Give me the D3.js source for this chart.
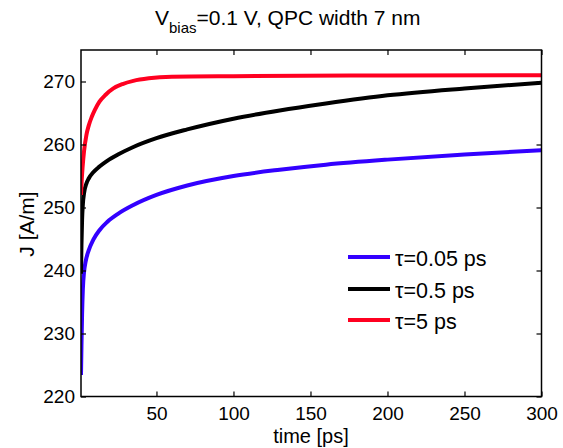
<!DOCTYPE html>
<html><head><meta charset="utf-8">
<script src="https://cdn.jsdelivr.net/npm/d3@7"></script>
<style>
body{margin:0;background:#fff;}
text{font-family:"Liberation Sans",Arial,sans-serif;fill:#000;}
</style></head>
<body><svg id="c" width="563" height="448"></svg>
<script>
const xTicks = [50,100,150,200,250,300];
const yTicks = [220,230,240,250,260,270];
const seriesNames = ["τ=0.05 ps","τ=0.5 ps","τ=5 ps"];
const seriesColors = ["#3300ff","#000000","#ff0020"];
const tBlue  = [1,1.3,1.7,2.2,3,4,6,9,13,18,25,35,50,70,100,130,160,200,250,300];
const jBlue  = [223.4,228,233,237,239.8,241.4,243.2,244.9,246.4,247.7,249.0,250.4,252.0,253.5,255.0,256.0,256.8,257.6,258.4,259.1];
const tBlack = [1,1.3,1.7,2.2,3,4.5,6,9,13,18,25,35,50,70,100,130,160,200,250,300];
const jBlack = [239.5,244,248,250.5,252.3,253.8,254.6,255.6,256.5,257.4,258.4,259.6,261.0,262.4,264.1,265.4,266.5,267.8,268.9,269.8];
const tRed   = [1,1.5,2,3,4.5,6,8,10,13,17,22,28,35,45,60,100,200,300];
const jRed   = [252,254.5,256.3,259.0,261.5,263.0,264.4,265.5,266.8,267.9,268.9,269.6,270.1,270.5,270.75,270.85,270.95,271.0];

const svg = d3.select("#c");
const L=81, R=541.5, T=50, B=396.5;
const x = d3.scaleLinear().domain([1,300]).range([L,R]);
const y = d3.scaleLinear().domain([220,275]).range([B,T]);

const data = [
  tBlue.map((t,i)=>[t,jBlue[i]]),
  tBlack.map((t,i)=>[t,jBlack[i]]),
  tRed.map((t,i)=>[t,jRed[i]])
];
const line = d3.line().x(d=>x(d[0])).y(d=>y(d[1])).curve(d3.curveMonotoneX);
const g = svg.append("g");
g.append("defs").append("clipPath").attr("id","cp").append("rect")
 .attr("x",L).attr("y",T).attr("width",R-L).attr("height",B-T);
data.forEach((d,i)=>{
  g.append("path").attr("d",line(d)).attr("fill","none")
   .attr("stroke",seriesColors[i]).attr("stroke-width",4)
   .attr("stroke-linejoin","round")
   .attr("clip-path","url(#cp)");
});

const fs = "19px";
const ax = (sel)=>{sel.select(".domain").remove(); sel.selectAll("line").attr("stroke","#000").attr("stroke-width",1.2); sel.selectAll("text").style("font-size",fs).attr("font-family",null);};
svg.append("g").attr("transform",`translate(0,${B})`)
  .call(d3.axisBottom(x).tickValues(xTicks).tickSizeInner(-5).tickSizeOuter(0).tickPadding(10)).call(ax);
svg.append("g").attr("transform",`translate(0,${T})`)
  .call(d3.axisTop(x).tickValues(xTicks).tickSizeInner(-5).tickSizeOuter(0).tickFormat("")).call(ax);
svg.append("g").attr("transform",`translate(${L},0)`)
  .call(d3.axisLeft(y).tickValues(yTicks).tickSizeInner(-5).tickSizeOuter(0).tickPadding(6)).call(ax);
svg.append("g").attr("transform",`translate(${R},0)`)
  .call(d3.axisRight(y).tickValues(yTicks).tickSizeInner(-5).tickSizeOuter(0).tickFormat("")).call(ax);
svg.append("rect").attr("x",L).attr("y",T).attr("width",R-L).attr("height",B-T)
  .attr("fill","none").attr("stroke","#000").attr("stroke-width",1.5);

// title
const title = svg.append("text").attr("x",155).attr("y",25).attr("text-anchor","start").style("font-size","21px");
title.append("tspan").text("V");
title.append("tspan").attr("dy",8).style("font-size","15px").text("bias");
title.append("tspan").attr("dy",-8).text("=0.1 V, QPC width 7 nm");

svg.append("text").attr("x",311).attr("y",443).attr("text-anchor","middle").style("font-size","20px").text("time [ps]");
svg.append("text").attr("transform","translate(34,224) rotate(-90)").attr("text-anchor","middle").style("font-size","21px").text("J [A/m]");

// legend
const ly=[257,289,320];
seriesNames.forEach((n,i)=>{
  svg.append("line").attr("x1",348).attr("x2",390).attr("y1",ly[i]).attr("y2",ly[i])
    .attr("stroke",seriesColors[i]).attr("stroke-width",4);
  svg.append("text").attr("x",395).attr("y",ly[i]+8.5).style("font-size","21.5px").text(n);
});
</script></body></html>
